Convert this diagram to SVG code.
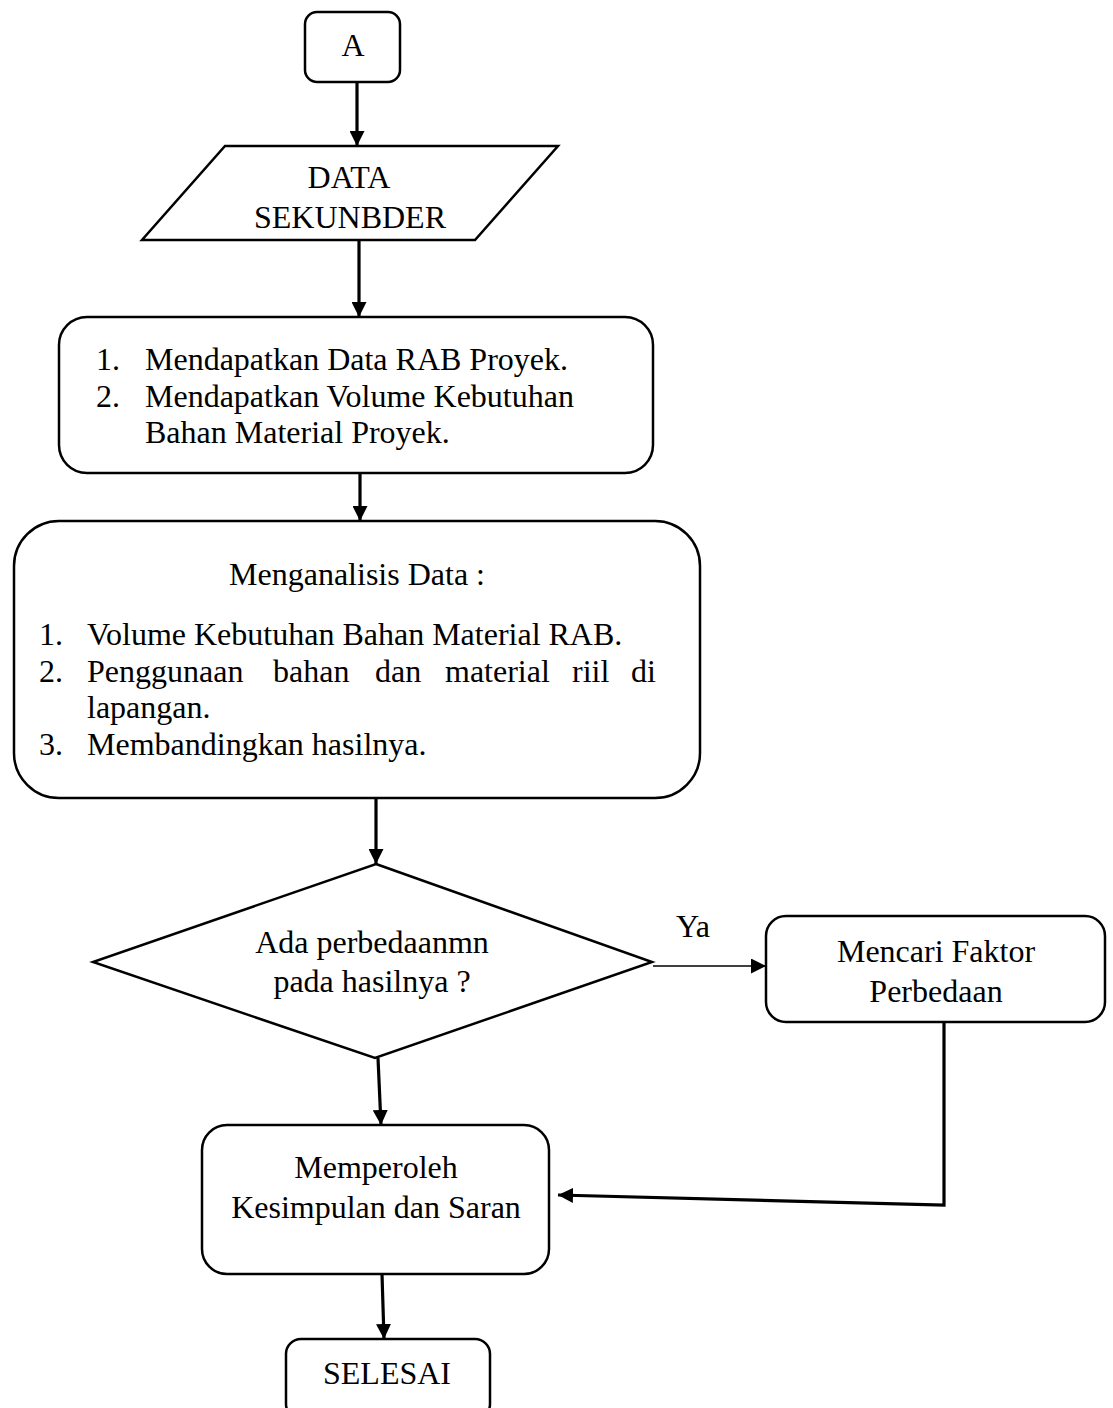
<svg xmlns="http://www.w3.org/2000/svg" width="1113" height="1408" viewBox="0 0 1113 1408">
<style>
.n{fill:#fff;stroke:#000;stroke-width:2.5}
.t{font-family:"Liberation Serif","Times New Roman",serif;font-size:32px;fill:#000}
.c{text-anchor:middle}
.e{fill:none;stroke:#000;stroke-width:3.2}
.th{fill:none;stroke:#000;stroke-width:1.5}
</style>
<defs>
<marker id="ah" markerUnits="userSpaceOnUse" markerWidth="15" markerHeight="15" viewBox="0 0 15 15" refX="15" refY="7.5" orient="auto"><path d="M0,0 L15,7.5 L0,15 z" fill="#000"/></marker>
</defs>
<rect width="1113" height="1408" fill="#fff"/>
<g id="connectors">
<path class="e" d="M357,82 L357,146" marker-end="url(#ah)"/>
<path class="e" d="M359,240 L359,317" marker-end="url(#ah)"/>
<path class="e" d="M360,473 L360,521" marker-end="url(#ah)"/>
<path class="e" d="M376,798 L376,864" marker-end="url(#ah)"/>
<path class="e" d="M378,1058 L381,1125" marker-end="url(#ah)"/>
<path class="th" d="M653,966 L766,966" marker-end="url(#ah)"/>
<path class="e" d="M944,1022 L944,1205 L558,1195" marker-end="url(#ah)"/>
<path class="e" d="M382,1274 L384,1339" marker-end="url(#ah)"/>
<text class="t c" x="693" y="937">Ya</text>
</g>
<g id="start">
<rect class="n" x="305" y="12" width="95" height="70" rx="12"/>
<text class="t c" x="353" y="56">A</text>
</g>
<g id="data">
<polygon class="n" points="225,146 558,146 475,240 142,240"/>
<text class="t c" x="349" y="188">DATA</text>
<text class="t c" x="350" y="228">SEKUNBDER</text>
</g>
<g id="step1">
<rect class="n" x="59" y="317" width="594" height="156" rx="28"/>
<text class="t" x="96" y="370">1.</text>
<text class="t" x="145" y="370">Mendapatkan Data RAB Proyek.</text>
<text class="t" x="96" y="407">2.</text>
<text class="t" x="145" y="407">Mendapatkan Volume Kebutuhan</text>
<text class="t" x="145" y="443">Bahan Material Proyek.</text>
</g>
<g id="analysis">
<rect class="n" x="14" y="521" width="686" height="277" rx="45"/>
<text class="t c" x="357" y="585">Menganalisis Data :</text>
<text class="t" x="39" y="645">1.</text>
<text class="t" x="87" y="645">Volume Kebutuhan Bahan Material RAB.</text>
<text class="t" x="39" y="682">2.</text>
<text class="t" y="682"><tspan x="87">Penggunaan</tspan><tspan x="273">bahan</tspan><tspan x="375">dan</tspan><tspan x="445">material</tspan><tspan x="572">riil</tspan><tspan x="631">di</tspan></text>
<text class="t" x="87" y="718">lapangan.</text>
<text class="t" x="39" y="755">3.</text>
<text class="t" x="87" y="755">Membandingkan hasilnya.</text>
</g>
<g id="decision">
<polygon class="n" points="376,864 652,962 375,1058 93,962"/>
<text class="t c" x="372" y="953">Ada perbedaanmn</text>
<text class="t c" x="372" y="992">pada hasilnya ?</text>
</g>
<g id="factor">
<rect class="n" x="766" y="916" width="339" height="106" rx="20"/>
<text class="t c" x="936" y="962">Mencari Faktor</text>
<text class="t c" x="936" y="1002">Perbedaan</text>
</g>
<g id="conclusion">
<rect class="n" x="202" y="1125" width="347" height="149" rx="25"/>
<text class="t c" x="376" y="1178">Memperoleh</text>
<text class="t c" x="376" y="1218">Kesimpulan dan Saran</text>
</g>
<g id="end">
<rect class="n" x="286" y="1339" width="204" height="80" rx="15"/>
<text class="t c" x="387" y="1384">SELESAI</text>
</g>
</svg>
